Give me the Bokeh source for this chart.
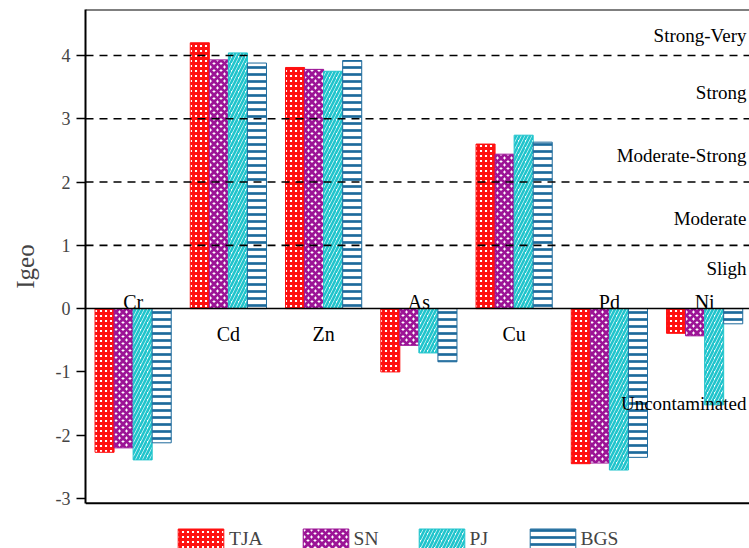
import numpy as np
from bokeh.plotting import figure
from bokeh.models import (ColumnDataSource, Range1d, FixedTicker, Span, Label,
                          Legend, LegendItem)
from bokeh.core.properties import value
from bokeh.transform import dodge
from bokeh.embed import file_html
from bokeh.resources import INLINE

# ---- data ----
elements = ["Cr", "Cd", "Zn", "As", "Cu", "Pd", "Ni"]
TJA = [-2.27, 4.20, 3.81, -1.00, 2.60, -2.45, -0.39]
SN  = [-2.20, 3.93, 3.78, -0.58, 2.44, -2.44, -0.43]
PJ  = [-2.39, 4.04, 3.75, -0.70, 2.74, -2.55, -1.52]
BGS = [-2.12, 3.88, 3.92, -0.84, 2.63, -2.35, -0.24]
series_names = ["TJA", "SN", "PJ", "BGS"]
y_ticks = [-3, -2, -1, 0, 1, 2, 3, 4]
threshold_lines = [1, 2, 3, 4]
zone_labels = ["Strong-Very", "Strong", "Moderate-Strong", "Moderate", "Sligh", "Uncontaminated"]
zone_label_y = [4.32, 3.41, 2.42, 1.42, 0.63, -1.50]

# ---- styles ----
FONT = "Liberation Serif"
colors = ["#FF1010", "#9C1496", "#20C4CC", "#1D6A9C"]
hatches = [("cross", 5, 2.9), ("diagonal_cross", 7, 2.9),
           ("right_diagonal_line", 7, 2.6), ("horizontal_line", 7, 2.7)]
AX_MIN, AX_MAX = -3.074, 4.726   # visible axis box
Y_LOW = -3.79                    # extra room below the box for the legend
XMAX = 6.971

xc = np.arange(len(elements)) + 0.5
src = ColumnDataSource(dict(x=xc, TJA=TJA, SN=SN, PJ=PJ, BGS=BGS))

p = figure(width=749, height=548, output_backend="svg", toolbar_location=None,
           x_range=Range1d(0, XMAX), y_range=Range1d(Y_LOW, AX_MAX),
           min_border_left=85, min_border_right=0, min_border_top=9,
           min_border_bottom=0)
p.outline_line_color = None
p.background_fill_color = "white"
p.xgrid.visible = False
p.ygrid.visible = False
p.xaxis.visible = False

offsets = [-0.3, -0.1, 0.1, 0.3]
renderers = []
for name, col, off, (hp, hs, hw) in zip(series_names, colors, offsets, hatches):
    r = p.vbar(x=dodge("x", off, range=p.x_range), top=name, bottom=0, width=0.2,
               source=src, fill_color="white", line_color=col, line_width=1,
               hatch_pattern=hp, hatch_color=col, hatch_scale=hs, hatch_weight=hw)
    renderers.append(r)

# threshold dashed lines
for t in threshold_lines:
    p.add_layout(Span(location=t, dimension="width", line_color="black",
                      line_width=1.6, line_dash="8 6"))
# zero line, top and bottom border
p.add_layout(Span(location=0, dimension="width", line_color="black", line_width=1.5))
p.add_layout(Span(location=AX_MAX, dimension="width", line_color="black", line_width=2))
p.add_layout(Span(location=AX_MIN, dimension="width", line_color="black", line_width=2))

# category labels
grp_sign = [1 if (a + b + c + d) > 0 else -1 for a, b, c, d in zip(TJA, SN, PJ, BGS)]
lab_src = ColumnDataSource(dict(x=xc, y=[0] * len(elements), text=elements,
                                yoff=[25 if s > 0 else -7 for s in grp_sign]))
p.text(x="x", y="y", text="text", y_offset="yoff", source=lab_src,
       text_font=value(FONT), text_font_size="20px", text_align="center",
       text_baseline="alphabetic", text_color="black")

# zone labels
for txt, yy in zip(zone_labels, zone_label_y):
    p.add_layout(Label(x=XMAX, y=yy, x_offset=-3, text=txt, text_align="right",
                       text_baseline="alphabetic", text_font=FONT,
                       text_font_size="19px", text_color="black"))

# y axis
yax = p.yaxis[0]
yax.bounds = (AX_MIN, AX_MAX)
yax.ticker = FixedTicker(ticks=y_ticks)
yax.major_label_overrides = {t: str(t) for t in y_ticks}
yax.axis_label = "\u00a0\u00a0\u00a0\u00a0Igeo"
yax.axis_label_text_font = FONT
yax.axis_label_text_font_style = "normal"
yax.axis_label_text_font_size = "25px"
yax.axis_label_standoff = 14
yax.major_label_text_font = FONT
yax.major_label_text_font_size = "18px"
yax.major_label_standoff = 6
yax.major_tick_out = 9
yax.major_tick_in = 0
yax.major_tick_line_width = 1.5
yax.minor_tick_line_color = None
yax.axis_line_width = 2

legend = Legend(items=[LegendItem(label=n, renderers=[r]) for n, r in zip(series_names, renderers)],
                orientation="horizontal", location=(87, -3),
                glyph_width=57, glyph_height=25, label_standoff=0, spacing=34,
                padding=0, margin=0, border_line_alpha=0, background_fill_alpha=0,
                label_text_font=FONT, label_text_font_size="19.5px")
p.add_layout(legend)

open("out.html", "w").write(file_html(p, INLINE))
